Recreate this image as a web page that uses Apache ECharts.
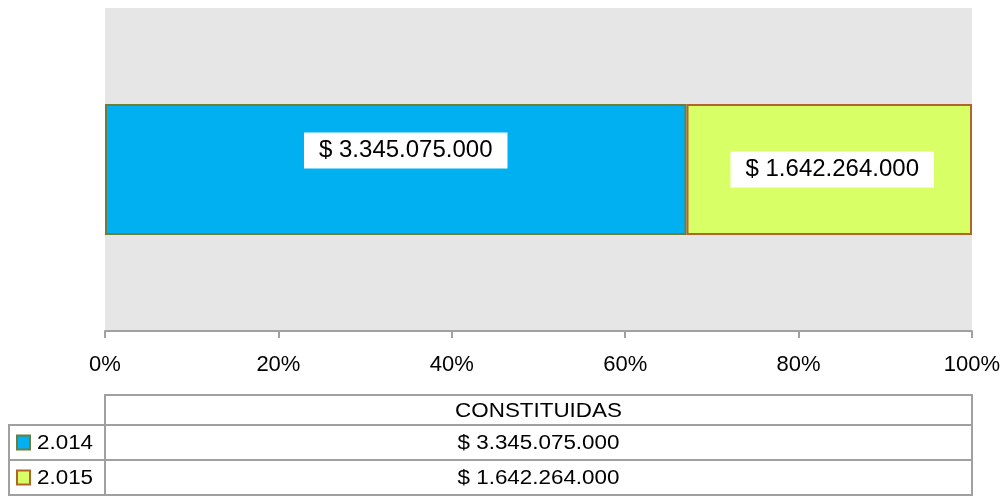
<!DOCTYPE html>
<html>
<head>
<meta charset="utf-8">
<script src="https://cdn.jsdelivr.net/npm/echarts@6/dist/echarts.min.js"></script>
<style>
  html, body { margin: 0; padding: 0; background: #fff; }
  #chart { width: 1007px; height: 496px; }
</style>
</head>
<body>
<div id="chart"></div>
<script>
// datos
const categories = ['CONSTITUIDAS']
const seriesNames = ['2.014', '2.015']
const seriesValues = [3345075000, 1642264000]
const seriesColors = ['#00b0f0', '#d9ff66']
const seriesBorders = ['#6b7f3a', '#b0652a']
const tickLabels = ['0%', '20%', '40%', '60%', '80%', '100%']

const total = seriesValues.reduce((a, b) => a + b, 0)
const fmt = (v) => '$ ' + String(v).replace(/\B(?=(\d{3})+(?!\d))/g, '.')

const font = 'Liberation Sans, Arial, sans-serif'
const chart = echarts.init(document.getElementById('chart'))

// tabla de datos abajo
const L = 9, C = 105, R = 972
const rowsY = [395, 425, 460, 495]
const lineStyle = { stroke: '#a0a0a0', lineWidth: 2 }
const tableFont = '20px ' + font
const graphic = []
graphic.push({ type: 'rect', shape: { x: C, y: rowsY[0], width: R - C, height: rowsY[3] - rowsY[0] }, style: { fill: 'none', ...lineStyle } })
graphic.push({ type: 'rect', shape: { x: L, y: rowsY[1], width: R - L, height: rowsY[3] - rowsY[1] }, style: { fill: 'none', ...lineStyle } })
graphic.push({ type: 'line', shape: { x1: L, y1: rowsY[2], x2: R, y2: rowsY[2] }, style: lineStyle })
graphic.push({ type: 'line', shape: { x1: C, y1: rowsY[0], x2: C, y2: rowsY[3] }, style: lineStyle })
graphic.push({
  type: 'text', x: (C + R) / 2, y: (rowsY[0] + rowsY[1]) / 2 + 1, scaleX: 1.12,
  style: { text: categories[0], fill: '#000', font: tableFont, align: 'center', verticalAlign: 'middle' }
})
seriesNames.forEach((name, i) => {
  const cy = (rowsY[i + 1] + rowsY[i + 2]) / 2
  graphic.push({ type: 'rect', shape: { x: 17, y: cy - 7, width: 13, height: 14 }, style: { fill: seriesColors[i], stroke: seriesBorders[i], lineWidth: 2 } })
  graphic.push({ type: 'text', x: 37, y: cy + 1, scaleX: 1.12, style: { text: name, fill: '#000', font: tableFont, verticalAlign: 'middle' } })
  graphic.push({ type: 'text', x: (C + R) / 2, y: cy + 1, scaleX: 1.12, style: { text: fmt(seriesValues[i]), fill: '#000', font: tableFont, align: 'center', verticalAlign: 'middle' } })
})

const labelOffsets = [[10, -19], [3, 0]]

const option = {
  animation: false,
  backgroundColor: '#fff',
  grid: {
    left: C, right: 1007 - R, top: 8, bottom: 496 - 331,
    show: true, backgroundColor: '#e6e6e6', borderWidth: 0
  },
  xAxis: {
    type: 'value',
    min: 0, max: 100, interval: 20,
    axisLine: { show: true, lineStyle: { color: '#a0a0a0', width: 2 } },
    axisTick: { show: true, length: 7, lineStyle: { color: '#a0a0a0', width: 2 } },
    splitLine: { show: false },
    axisLabel: {
      margin: 23, color: '#000', fontSize: 22, fontFamily: font,
      formatter: (v) => tickLabels[v / 20]
    }
  },
  yAxis: {
    type: 'category',
    data: categories,
    axisLine: { show: false },
    axisTick: { show: false },
    axisLabel: { show: false }
  },
  graphic: graphic,
  series: seriesNames.map((name, i) => ({
    name: name,
    type: 'bar',
    stack: 'total',
    barWidth: 131,
    data: [seriesValues[i] / total * 100],
    itemStyle: { color: seriesColors[i], borderColor: seriesBorders[i], borderWidth: 2 },
    label: {
      show: true,
      position: 'inside',
      offset: labelOffsets[i],
      formatter: () => fmt(seriesValues[i]),
      color: '#000',
      fontSize: 24,
      fontFamily: font,
      backgroundColor: '#fff',
      padding: [6, 15, 6, 15]
    }
  }))
}

chart.setOption(option)
</script>
</body>
</html>
